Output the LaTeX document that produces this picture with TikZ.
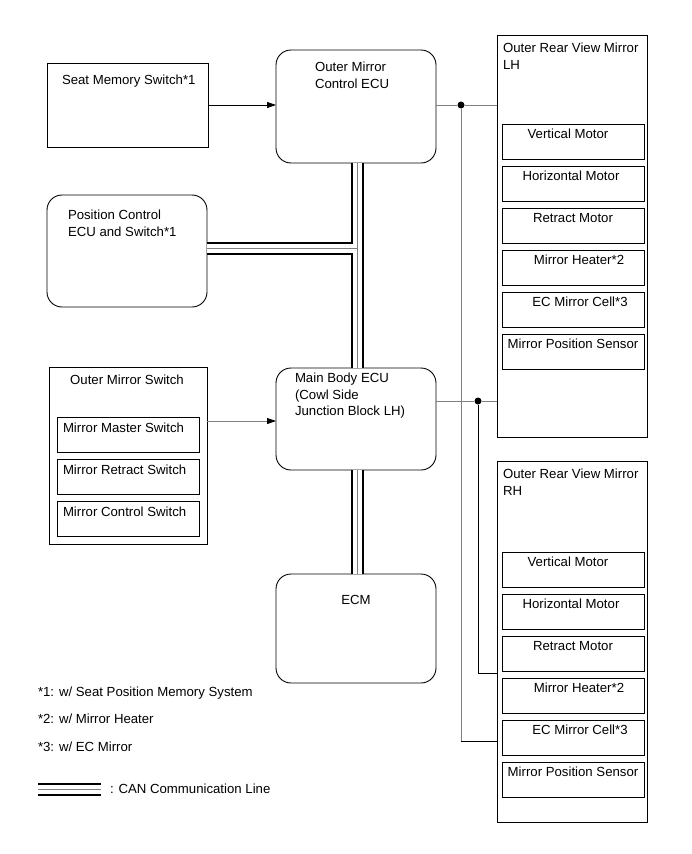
\documentclass[tikz,border=0pt]{standalone}
\usepackage{fontspec}
\setmainfont{Liberation Sans}
\usetikzlibrary{arrows.meta}
\begin{document}
\begin{tikzpicture}[x=1pt,y=-1pt,
 box/.style={draw, line width=0.9pt, inner sep=0, outer sep=0},
 rbox/.style={box, rounded corners=15pt},
 sub/.style={box, minimum width=142pt, minimum height=35pt},
 txt/.style={inner sep=0, outer sep=0, align=left, font=\fontsize{13.2}{16.5}\selectfont},
 con/.style={line width=0.8pt, draw=black!50},
 conb/.style={line width=0.8pt, draw=black},
 arr/.style={line width=0.8pt, -{Triangle[length=9pt,width=6pt,color=black,fill=black]}},
 dot/.style={circle, fill=black, inner sep=0, minimum size=7pt}]
\fill[white] (0,0) rectangle (691,854);
\useasboundingbox (0,0) rectangle (691,854);

% ---- boxes ----
\node[box, minimum width=161pt, minimum height=84pt] (seat) at (127.5,105) {};
\node[txt, anchor=base west] (seatT) at (62,84.7) {Seat Memory Switch*1};

\node[rbox, minimum width=160pt, minimum height=113pt] (omc) at (356,106.5) {};
\node[txt, anchor=north west] (omcT) at (315,62) {Outer Mirror\\Control ECU};

\node[rbox, minimum width=160pt, minimum height=112pt] (pos) at (127,251) {};
\node[txt, anchor=north west] (posT) at (68,210) {Position Control\\ECU and Switch*1};

\node[box, minimum width=158pt, minimum height=177pt] (oms) at (128,455.5) {};
\node[txt, anchor=base] (omsT) at (127,384.7) {Outer Mirror Switch};
\node[sub] (oms1) at (128,434.5) {};
\node[sub] (oms2) at (128,476.5) {};
\node[sub] (oms3) at (128,518.5) {};
\node[txt, anchor=base west] (oms1T) at (63,432.7) {Mirror Master Switch};
\node[txt, anchor=base west] (oms2T) at (63,474.7) {Mirror Retract Switch};
\node[txt, anchor=base west] (oms3T) at (63,516.7) {Mirror Control Switch};

\node[rbox, minimum width=160pt, minimum height=102pt] (mb) at (356,419) {};
\node[txt, anchor=north west] (mbT) at (295,373) {Main Body ECU\\(Cowl Side\\Junction Block LH)};

\node[rbox, minimum width=160pt, minimum height=109pt] (ecm) at (356,628.5) {};
\node[txt, anchor=base] (ecmT) at (356,604.7) {ECM};

% LH mirror
\node[box, minimum width=150pt, minimum height=402pt] (lh) at (572,236) {};
\node[txt, anchor=north west] (lhT) at (503,43) {Outer Rear View Mirror\\LH};
\node[sub] (lh1) at (573,141.5) {};
\node[sub] (lh2) at (573,183.5) {};
\node[sub] (lh3) at (573,225.5) {};
\node[sub] (lh4) at (573,267.5) {};
\node[sub] (lh5) at (573,309.5) {};
\node[sub] (lh6) at (573,351.5) {};
\node[txt, anchor=base] (lh1T) at (568,138.7) {Vertical Motor};
\node[txt, anchor=base] (lh2T) at (571,180.7) {Horizontal Motor};
\node[txt, anchor=base] (lh3T) at (573,222.7) {Retract Motor};
\node[txt, anchor=base] (lh4T) at (579,264.7) {Mirror Heater*2};
\node[txt, anchor=base] (lh5T) at (580,306.7) {EC Mirror Cell*3};
\node[txt, anchor=base] (lh6T) at (573,348.7) {Mirror Position Sensor};

% RH mirror
\node[box, minimum width=150pt, minimum height=361pt] (rh) at (572,641.5) {};
\node[txt, anchor=north west] (rhT) at (503,469) {Outer Rear View Mirror\\RH};
\node[sub] (rh1) at (573,569.5) {};
\node[sub] (rh2) at (573,611.5) {};
\node[sub] (rh3) at (573,653.5) {};
\node[sub] (rh4) at (573,695.5) {};
\node[sub] (rh5) at (573,737.5) {};
\node[sub] (rh6) at (573,779.5) {};
\node[txt, anchor=base] (rh1T) at (568,566.7) {Vertical Motor};
\node[txt, anchor=base] (rh2T) at (571,608.7) {Horizontal Motor};
\node[txt, anchor=base] (rh3T) at (573,650.7) {Retract Motor};
\node[txt, anchor=base] (rh4T) at (579,692.7) {Mirror Heater*2};
\node[txt, anchor=base] (rh5T) at (580,734.7) {EC Mirror Cell*3};
\node[txt, anchor=base] (rh6T) at (573,776.7) {Mirror Position Sensor};

% legend
\node[txt, anchor=base west] (n1) at (38,696.7) {*1: w/ Seat Position Memory System};
\node[txt, anchor=base west] (n2) at (38,723.7) {*2: w/ Mirror Heater};
\node[txt, anchor=base west] (n3) at (38,751.7) {*3: w/ EC Mirror};
\node[txt, anchor=base west] (n4) at (110,793.7) {: CAN Communication Line};

% ---- connectors ----
\draw[arr] (seat.east) -- (seat.east -| omc.west);
\coordinate (a2) at (207,421);
\draw[arr, draw=black!50] (oms.east |- a2) -- (a2 -| mb.west);

\node[dot] (d1) at (461,105) {};
\node[dot] (d2) at (478,401) {};
\coordinate (c1) at (461,741);
\coordinate (c2) at (478,673);
\draw[con] (omc.east |- d1) -- (d1) -- (lh.west |- d1);
\draw[con] (d1) -- (c1);
\draw[conb] (c1) -- (c1 -| rh.west);
\draw[con] (mb.east |- d2) -- (d2) -- (lh.west |- d2);
\draw[conb] (d2) -- (c2) -- (c2 -| rh.west);

% CAN lines
\coordinate (cj) at (357,248);
\coordinate (lg1) at (38,789);
\coordinate (lg2) at (101,789);
\foreach \w/\c in {13/black, 9/white, 0.8/black!50} {
  \draw[line width=\w pt, draw=\c] (cj |- omc.south) -- (cj |- mb.north)
     (cj |- mb.south) -- (cj |- ecm.north)
     (pos.east |- cj) -- (cj)
     (lg1) -- (lg2);
}
\end{tikzpicture}
\end{document}
